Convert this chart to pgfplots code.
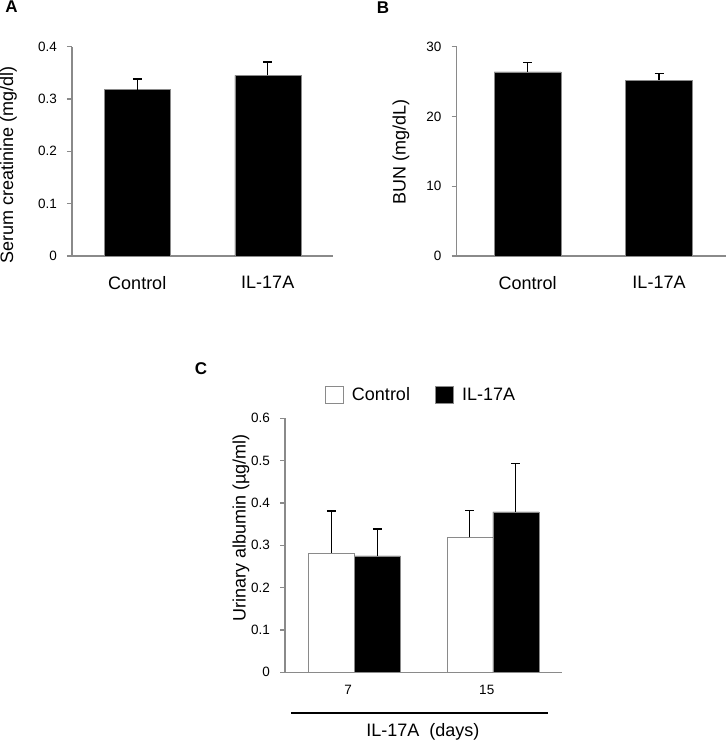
\documentclass[border=0pt]{standalone}
\usepackage{fontspec}
\setmainfont{Liberation Sans}
\usepackage{pgfplots}
\pgfplotsset{compat=1.18}
\definecolor{axgray}{HTML}{8A8A8A}
\newcommand{\fs}[1]{\fontsize{#1bp}{#1bp}\selectfont}
\pgfplotsset{
  panel/.style={
    scale only axis, anchor=south west, clip=false,
    axis lines*=left,
    axis line style={axgray, line width=1.1bp},
    tick align=outside,
    ytick style={axgray, line width=1.1bp},
    major tick length=5bp,
    xtick style={draw=none},
    ymin=0,
    xtick={1,2},
    tick label style={font=\fs{13.5}, inner sep=0pt},
    yticklabel style={xshift=-10bp},
    every axis y label/.style={rotate=90, anchor=center, font=\fs{18}},
    ybar=0pt,
  },
  errs/.style={error bars/.cd, y dir=plus, y explicit,
    error bar style={black, line width=1.3bp},
    error mark options={rotate=90, mark size=4.5bp, line width=1.3bp, black}},
}
\begin{document}
\begin{tikzpicture}
\path[use as bounding box] (0,0) rectangle (727bp,742bp);
% Panel A
\begin{axis}[panel, at={(72bp,486bp)}, width=261bp, height=209.3bp,
  xmin=0.5, xmax=2.5, ymax=0.4, ytick={0,0.1,0.2,0.3,0.4},
  yticklabels={0,0.1,0.2,0.3,0.4},
  xticklabels={Control,IL-17A},
  xticklabel style={font=\fs{18}, yshift=-15bp},
  bar width=66bp,
  ylabel={Serum creatinine (mg/dl)},
  ylabel style={at={(axis description cs:-0.243,0.435)}}]
\addplot[fill=black, draw=axgray, errs] coordinates {(1,0.318) +- (0,0.020) (2,0.345) +- (0,0.026)};
\end{axis}
% Panel B
\begin{axis}[panel, at={(456.7bp,486bp)}, width=269.3bp, height=209.3bp,
  xmin=0.46, xmax=2.51, ymax=30, ytick={0,10,20,30},
  yticklabels={0,10,20,30},
  xticklabels={Control,IL-17A},
  xticklabel style={font=\fs{18}, yshift=-15bp},
  bar width=67bp,
  ylabel={BUN (mg/dL)},
  ylabel style={at={(axis description cs:-0.207,0.498)}}]
\addplot[fill=black, draw=axgray, errs] coordinates {(1,26.4) +- (0,1.3) (2,25.2) +- (0,1.0)};
\end{axis}
% Panel C
\begin{axis}[panel, at={(285bp,69.7bp)}, width=277bp, height=254bp,
  xmin=0.5, xmax=2.5, ymax=0.6, ytick={0,0.1,0.2,0.3,0.4,0.5,0.6},
  yticklabels={0,0.1,0.2,0.3,0.4,0.5,0.6},
  xticklabels={7,15},
  xticklabel style={yshift=-8bp, xshift=-6bp},
  bar width=46bp,
  ylabel={Urinary albumin (µg/ml)},
  ylabel style={at={(axis description cs:-0.159,0.568)}},
  xlabel={IL-17A\ \ (days)},
  every axis x label/.style={at={(axis description cs:0.498,-0.2547)}, anchor=base, font=\fs{18}},
  legend image code/.code={\draw[#1, draw=axgray, line width=1bp] (0bp,-8.5bp) rectangle (18bp,8.5bp); \path (24.5bp,0bp);},
  legend columns=2,
  legend style={at={(axis description cs:0.491,1.092)}, anchor=center, draw=none, fill=none,
    font=\fs{18}, inner sep=0pt,
    /tikz/every even column/.append style={column sep=23bp}},
  ]
\addplot[fill=white, draw=axgray, errs] coordinates {(1,0.282) +- (0,0.099) (2,0.319) +- (0,0.064)};
\addplot[fill=black, draw=axgray, errs] coordinates {(1,0.275) +- (0,0.0635) (2,0.379) +- (0,0.114)};
\legend{Control,IL-17A}
\draw[black, line width=1.8bp] (axis description cs:0.022,-0.1614) -- (axis description cs:0.949,-0.1614);
\end{axis}
\node[font=\bfseries\fs{17}] at (11.5bp,735.5bp) {A};
\node[font=\bfseries\fs{17}] at (383bp,734.5bp) {B};
\node[font=\bfseries\fs{17}] at (201bp,373bp) {C};
\end{tikzpicture}
\end{document}
